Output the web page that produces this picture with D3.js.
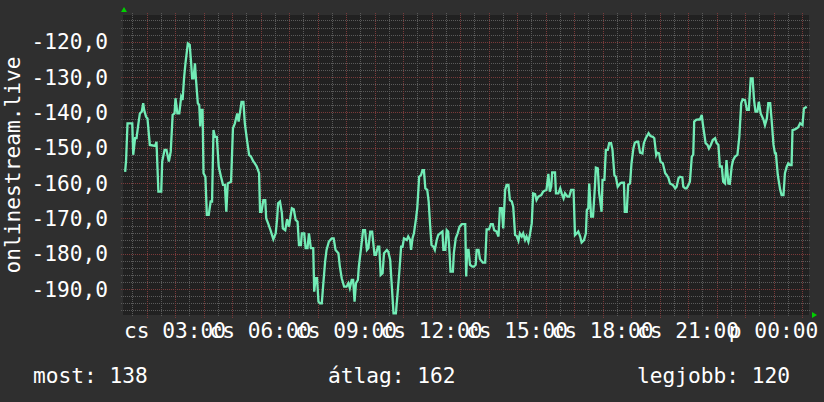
<!DOCTYPE html>
<html><head><meta charset="utf-8">
<script src="https://cdn.jsdelivr.net/npm/d3@7"></script>
<style>html,body{margin:0;padding:0;background:#2f2f2f;}svg{display:block;}</style>
</head><body>
<svg id="c" width="824" height="402"></svg>
<script>
// time in minutes from "cs 00:00"
const minutes = [75,77,80,90,92,96,99,103,106,110,113,115,119,122,127,138,141,145,151,153,158,162,167,171,175,179,181,185,189,193,196,199,202,207,211,214,216,219,222,224,228,231,233,235,238,240,244,247,251,255,258,261,264,268,272,276,281,285,288,291,298,302,306,311,314,320,324,327,331,336,340,345,348,
352,357,359,362,366,370,372,376,381,387,392,395,397,401,405,407,412,416,420,422,426,430,434,438,441,445,447,452,455,459,462,466,471,473,476,479,482,485,489,492,496,499,504,510,514,518,524,527,531,536,541,545,548,552,555,558,561,565,567,572,576,580,584,587,591,595,600,603,607,610,613,617,620,626,629,633,636,640,
641,645,648,652,656,659,662,668,671,675,677,680,683,687,690,694,698,701,704,707,711,714,717,720,724,727,731,734,738,743,745,749,752,755,758,760,765,767,771,775,779,784,791,793,795,798,801,806,809,813,815,819,822,828,833,836,841,845,849,852,857,861,864,868,871,875,878,882,885,889,892,896,899,903,906,910,913,917,920,924,927,
931,934,938,941,945,951,955,962,966,969,972,974,980,982,987,991,994,998,1001,1006,1010,1014,1019,1021,1022,1026,1029,1033,1036,1041,1045,1047,1050,1052,1056,1060,1064,1066,1070,1073,1075,1078,1080,1084,1087,1091,1094,1098,1101,1105,1108,1112,1117,1120,1125,1127,1131,1134,1138,1141,1145,1148,1152,1155,1159,1164,1167,1171,1177,1181,1186,1189,1193,1195,1199,1202,1207,
1212,1215,1219,1222,1228,1233,1236,1240,1243,1248,1250,1254,1257,1261,1264,1268,1271,1273,1277,1282,1285,1289,1291,1294,1297,1301,1304,1308,1312,1317,1320,1324,1327,1331,1334,1338,1341,1345,1348,1352,1355,1359,1364,1368,1372,1375,1380,1384,1388,1392,1396,1399,1402,1406,1409,1413,1419,1422,1426,1429,1433,1436,1440,1443,1445,1449,1454,1457,1461,1464,1468,1471,1475,1478,1480,1485,1489,1492,1496,1501,1504,1510];

const values = [-156.8,-153.5,-143.1,-143.1,-152.0,-147.3,-147.3,-143.1,-140.3,-139.8,-137.4,-139.3,-141.2,-141.7,-149.2,-149.5,-148.3,-162.4,-162.4,-153.9,-150.6,-150.6,-153.9,-151.1,-140.7,-140.3,-136.0,-140.3,-140.3,-135.6,-136.5,-130.4,-126.1,-120.5,-120.9,-126.1,-130.4,-130.4,-126.1,-130.4,-137.4,-137.9,-144.0,-139.3,-139.3,-157.2,-158.2,-169.0,-169.0,-165.2,-165.2,-145.0,-146.9,-146.9,-155.3,-157.7,-160.5,-160.5,-168.1,-160.1,-159.6,-144.5,-143.1,-140.3,-142.6,-137.0,-137.0,-143.1,-147.3,-152.0,-152.5,-153.9,-154.4,
-155.3,-157.2,-168.1,-168.1,-164.8,-164.8,-170.0,-171.4,-173.3,-175.9,-174.2,-170.0,-165.7,-165.2,-168.5,-172.8,-173.3,-170.2,-172.3,-170.4,-167.1,-167.4,-170.4,-170.9,-177.5,-177.5,-174.2,-174.2,-178.4,-178.4,-174.2,-178.4,-178.4,-190.7,-186.9,-186.9,-193.5,-194.0,-194.0,-188.8,-182.2,-178.9,-176.5,-175.6,-175.6,-178.9,-179.8,-183.6,-186.9,-189.3,-189.3,-188.3,-189.7,-187.4,-187.4,-193.5,-188.3,-187.4,-183.6,-178.0,-173.3,-173.3,-178.9,-178.4,-173.7,-173.7,-180.3,-180.3,-178.0,-178.0,-186.0,-185.5,-179.8,-178.9,-179.4,-181.7,-188.3,-196.8,
-196.8,-196.8,-192.1,-185.5,-178.0,-178.0,-175.6,-176.1,-175.1,-176.1,-178.9,-175.6,-174.2,-170.4,-167.1,-158.2,-157.7,-156.3,-156.3,-161.5,-161.9,-165.2,-171.8,-177.5,-178.0,-178.9,-176.1,-174.7,-174.2,-173.7,-178.9,-178.9,-173.3,-173.7,-179.8,-185.0,-185.0,-179.8,-175.6,-174.2,-172.3,-171.6,-171.6,-186.4,-178.9,-178.9,-183.1,-183.6,-183.6,-183.1,-178.9,-178.9,-181.5,-182.5,-182.5,-173.1,-173.1,-171.6,-171.6,-173.3,-173.7,-175.1,-167.1,-167.1,-172.8,-161.9,-160.5,-160.5,-164.8,-165.2,-166.7,-174.7,-174.9,-176.3,-174.2,-175.1,-174.2,-176.1,-175.1,-176.6,-174.7,
-171.4,-162.9,-163.1,-164.8,-163.8,-163.4,-162.4,-161.9,-157.4,-162.4,-161.0,-157.0,-157.0,-162.9,-162.9,-161.5,-162.9,-164.3,-162.9,-163.8,-163.8,-161.9,-161.9,-170.4,-174.7,-174.2,-173.7,-175.1,-176.8,-176.1,-174.2,-167.6,-167.1,-160.1,-169.5,-169.5,-161.0,-155.6,-155.8,-162.9,-164.8,-168.1,-159.1,-159.1,-150.6,-150.6,-148.7,-148.7,-150.6,-157.7,-158.2,-161.0,-160.1,-159.9,-159.9,-168.1,-168.1,-160.5,-160.1,-154.4,-150.2,-148.6,-148.3,-148.3,-151.4,-151.6,-148.7,-147.3,-145.9,-146.7,-146.9,-147.3,-152.0,-151.4,-151.6,-153.9,-154.4,
-157.2,-157.7,-158.6,-160.1,-160.5,-161.5,-161.0,-158.6,-158.2,-158.4,-161.0,-161.5,-161.5,-160.5,-159.6,-152.5,-152.0,-142.6,-142.1,-142.0,-142.0,-140.7,-143.1,-145.9,-148.7,-149.2,-150.2,-149.2,-147.8,-147.3,-148.6,-149.2,-155.3,-155.3,-159.6,-160.1,-153.5,-160.1,-160.2,-155.3,-153.5,-152.5,-152.0,-146.9,-137.4,-136.3,-136.5,-139.3,-139.3,-130.4,-130.4,-136.5,-139.8,-139.8,-137.0,-140.3,-142.1,-143.6,-141.7,-137.4,-137.4,-142.1,-149.2,-151.6,-151.6,-157.7,-161.9,-163.4,-163.4,-157.2,-155.3,-154.4,-154.9,-154.9,-145.0,-144.8,-144.5,-144.2,-143.1,-143.6,-138.9,-138.4];

const xTickMinutes = [180, 360, 540, 720, 900, 1080, 1260, 1440];
const xTickLabels = ["cs 03:00", "cs 06:00", "cs 09:00", "cs 12:00", "cs 15:00", "cs 18:00", "cs 21:00", "p 00:00"];
const yTicks = [-190, -180, -170, -160, -150, -140, -130, -120];
const yTitle = "onlinestream.live";
const legendLabels = ["most: 138", "átlag: 162", "legjobb: 120"];

const W = 824, H = 402;
const L = 123, R = 809, T = 15, B = 315;
const FONT = "'DejaVu Sans Mono', monospace";
const FS = 21.2;

const svg = d3.select("#c");
svg.append("rect").attr("width", W).attr("height", H).attr("fill", "#2f2f2f");

const x = d3.scaleLinear().domain([70.5, 1514.7]).range([L, R]);
const y = d3.scaleLinear().domain([-197.3, -112.45]).range([B, T]);

svg.append("rect").attr("x", L).attr("y", T).attr("width", R - L).attr("height", B - T).attr("fill", "#212121");

const grid = svg.append("g").attr("shape-rendering", "crispEdges");
const minorX = d3.range(90, 1515, 30).filter(m => m % 60 !== 0);
const majorX = d3.range(120, 1515, 60);
grid.selectAll(".vx").data(minorX).join("line")
  .attr("x1", d => Math.round(x(d)) + 0.5).attr("x2", d => Math.round(x(d)) + 0.5)
  .attr("y1", T - 2).attr("y2", B + 2)
  .attr("stroke", "#5a5a5a").attr("stroke-dasharray", "1,1");
const minorY = d3.range(-196, -112, 2).filter(v => v % 10 !== 0);
grid.selectAll(".hy").data(minorY).join("line")
  .attr("x1", L - 2).attr("x2", R + 2)
  .attr("y1", d => Math.round(y(d)) + 0.5).attr("y2", d => Math.round(y(d)) + 0.5)
  .attr("stroke", "#5a5a5a").attr("stroke-dasharray", "1,1");
grid.selectAll(".mx").data(majorX).join("line")
  .attr("x1", d => Math.round(x(d)) + 0.5).attr("x2", d => Math.round(x(d)) + 0.5)
  .attr("y1", T - 2).attr("y2", B + 3)
  .attr("stroke", "#7a3a3a").attr("stroke-dasharray", "1,1");
grid.selectAll(".my").data(yTicks).join("line")
  .attr("x1", L - 2).attr("x2", R + 2)
  .attr("y1", d => Math.round(y(d)) + 0.5).attr("y2", d => Math.round(y(d)) + 0.5)
  .attr("stroke", "#7a3a3a").attr("stroke-dasharray", "1,1");

// data line
const pts = minutes.map((m, i) => [m, values[i]]);
svg.append("path").datum(pts)
  .attr("fill", "none").attr("stroke", "#72ecb6").attr("stroke-width", 2.3)
  .attr("stroke-linejoin", "miter")
  .attr("d", d3.line().x(d => x(d[0])).y(d => y(d[1])));

// arrows
svg.append("path").attr("d", `M${L - 2},12 L${L + 4},12 L${L + 1},7 Z`).attr("fill", "#00d000");
svg.append("path").attr("d", `M${R + 3},${B - 3} L${R + 3},${B + 3} L${R + 8},${B} Z`).attr("fill", "#00d000");

// y axis labels
const fmt = v => d3.format(".1f")(v).replace(".", ",").replace("−", "-");
svg.append("g").selectAll("text").data(yTicks).join("text")
  .attr("x", 108).attr("y", d => y(d)).attr("dy", "0.36em")
  .attr("text-anchor", "end").attr("fill", "#ffffff")
  .attr("font-family", FONT).attr("font-size", FS)
  .text(fmt);

// x axis labels
svg.append("g").selectAll("text").data(xTickMinutes).join("text")
  .attr("x", d => x(d)).attr("y", 338)
  .attr("text-anchor", "middle").attr("fill", "#ffffff")
  .attr("font-family", FONT).attr("font-size", FS)
  .text((d, i) => xTickLabels[i]);

// y title
svg.append("text").attr("transform", "translate(20,165) rotate(-90)")
  .attr("text-anchor", "middle").attr("fill", "#ffffff")
  .attr("font-family", FONT).attr("font-size", FS)
  .text(yTitle);

// legend
const legX = [33, 328, 637];
svg.append("g").selectAll("text").data(legendLabels).join("text")
  .attr("x", (d, i) => legX[i]).attr("y", 383)
  .attr("fill", "#ffffff").attr("font-family", FONT).attr("font-size", FS)
  .text(d => d);
</script>
</body></html>
